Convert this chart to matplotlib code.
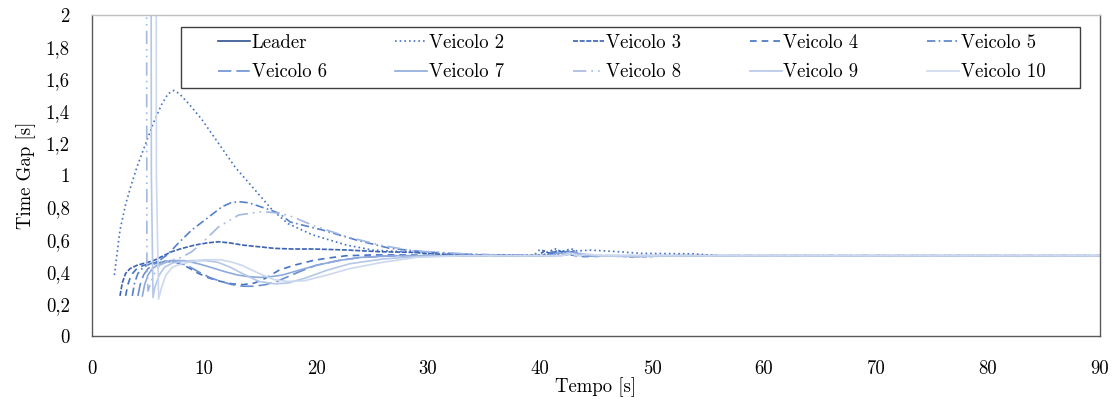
import matplotlib
matplotlib.use("Agg")
import matplotlib.pyplot as plt
from matplotlib.patches import Rectangle

# ---------------- data ----------------
series_names = ["Leader", "Veicolo 2", "Veicolo 3", "Veicolo 4", "Veicolo 5",
                "Veicolo 6", "Veicolo 7", "Veicolo 8", "Veicolo 9", "Veicolo 10"]

leader_t = []
leader_y = []

v2_t = [2.0, 2.5, 3.0, 3.5, 4.0, 4.8, 5.5, 6.2, 6.8, 7.3, 7.8, 8.6, 9.8, 11.3, 12.8, 14.3,
        16.1, 17.5, 19.7, 22.7, 25.1, 28.7, 31, 35, 39.5, 40.0, 40.7, 41.3, 42.0, 42.7,
        43.3, 44.5, 47, 49, 53.7, 56, 90]
v2_y = [0.38, 0.66, 0.82, 0.94, 1.05, 1.20, 1.33, 1.44, 1.51, 1.53, 1.51, 1.45, 1.35, 1.20,
        1.05, 0.93, 0.785, 0.70, 0.63, 0.567, 0.535, 0.522, 0.51, 0.505, 0.505, 0.54, 0.52,
        0.545, 0.52, 0.545, 0.53, 0.535, 0.525, 0.515, 0.512, 0.50, 0.50]

v3_t = [2.5, 2.7, 3.0, 3.4, 4.0, 4.5, 5.5, 7.1, 8.0, 9.2, 10.3, 11.3, 12.3, 13.4, 14.9,
        16.3, 17.9, 19.8, 22.7, 25.7, 28.7, 31, 35, 39.8, 40.4, 41.0, 41.6, 42.3, 43.0,
        43.7, 45, 48, 49.5, 52, 90]
v3_y = [0.25, 0.33, 0.39, 0.42, 0.44, 0.45, 0.47, 0.525, 0.545, 0.567, 0.58, 0.587, 0.58,
        0.567, 0.556, 0.546, 0.542, 0.542, 0.536, 0.525, 0.521, 0.51, 0.503, 0.50, 0.53,
        0.51, 0.535, 0.51, 0.53, 0.50, 0.50, 0.495, 0.495, 0.50, 0.50]

v4_t = [3.0, 3.2, 3.5, 4.0, 4.6, 5.5, 6.5, 7.5, 8.5, 9.5, 10.5, 11.5, 12.5, 13.5, 14.5,
        15.5, 16.7, 18.0, 19.7, 21, 22.7, 25, 28, 32, 40.2, 40.8, 41.4, 42.1, 42.8, 43.6,
        44.5, 47, 48.6, 50, 90]
v4_y = [0.25, 0.32, 0.38, 0.42, 0.44, 0.455, 0.465, 0.46, 0.43, 0.39, 0.36, 0.34, 0.325,
        0.32, 0.33, 0.36, 0.41, 0.44, 0.47, 0.485, 0.50, 0.505, 0.505, 0.50, 0.50, 0.525,
        0.505, 0.53, 0.505, 0.495, 0.495, 0.50, 0.494, 0.50, 0.50]

v5_t = [3.6, 3.8, 4.1, 4.6, 5.2, 6.0, 6.8, 7.7, 8.9, 10.4, 11.6, 12.4, 13.1, 14.0, 14.6,
        15.7, 16.7, 17.7, 20.6, 23.6, 26.6, 29.6, 33, 40.5, 41.1, 41.8, 42.5, 43.2, 44,
        46, 90]
v5_y = [0.25, 0.33, 0.39, 0.43, 0.45, 0.47, 0.51, 0.578, 0.66, 0.74, 0.805, 0.83, 0.837,
        0.83, 0.816, 0.79, 0.765, 0.71, 0.66, 0.598, 0.546, 0.525, 0.51, 0.50, 0.525,
        0.505, 0.53, 0.505, 0.50, 0.50, 0.50]

v6_t = [4.1, 4.3, 4.6, 5.0, 5.6, 6.5, 7.5, 8.5, 9.5, 10.5, 11.5, 12.5, 13.5, 14.5, 15.5,
        16.5, 17.5, 18.5, 20, 22, 24, 27, 30, 40.8, 41.5, 42.2, 43, 43.8, 45, 90]
v6_y = [0.25, 0.32, 0.38, 0.42, 0.45, 0.465, 0.46, 0.44, 0.40, 0.365, 0.34, 0.32, 0.31,
        0.31, 0.32, 0.34, 0.37, 0.40, 0.44, 0.47, 0.49, 0.50, 0.50, 0.50, 0.52, 0.505,
        0.525, 0.50, 0.50, 0.50]

v7_t = [4.5, 4.7, 5.0, 5.4, 6.0, 7.0, 8.3, 9.5, 10.5, 11.9, 13.0, 14.0, 15.0, 16.0, 17.0,
        18.5, 20, 22, 24, 27, 30, 41, 41.7, 42.4, 43.1, 44, 90]
v7_y = [0.25, 0.32, 0.38, 0.42, 0.45, 0.47, 0.47, 0.45, 0.43, 0.40, 0.38, 0.37, 0.365,
        0.37, 0.38, 0.41, 0.44, 0.47, 0.49, 0.50, 0.50, 0.50, 0.52, 0.505, 0.52, 0.50, 0.50]

v8_t = [4.85, 4.9, 5.0, 5.5, 6.0, 7.0, 8.0, 8.9, 9.8, 11.3, 13.1, 15.2, 16.8, 18, 19.7,
        22.7, 25.7, 28.7, 31.7, 35, 41.5, 42.2, 42.9, 43.6, 44.5, 90]
v8_y = [4.0, 0.45, 0.28, 0.38, 0.44, 0.47, 0.49, 0.525, 0.578, 0.68, 0.754, 0.775, 0.765,
        0.74, 0.69, 0.62, 0.567, 0.53, 0.519, 0.505, 0.50, 0.52, 0.505, 0.515, 0.50, 0.50]

v9_t = [5.25, 5.3, 5.45, 5.6, 6.0, 6.5, 7.2, 8.0, 9.0, 10.1, 11.2, 12.3, 13.4, 14.9, 16.3,
        17.5, 19, 21, 23, 26, 29, 32, 41.8, 42.5, 43.2, 44, 45, 90]
v9_y = [4.0, 1.0, 0.24, 0.30, 0.38, 0.43, 0.455, 0.465, 0.47, 0.47, 0.46, 0.43, 0.39,
        0.34, 0.325, 0.33, 0.36, 0.41, 0.45, 0.48, 0.495, 0.50, 0.50, 0.52, 0.50, 0.51,
        0.50, 0.50]

v10_t = [5.7, 5.75, 5.95, 6.2, 6.6, 7.2, 8.0, 9.0, 10.1, 11.5, 12.5, 13.4, 14.9, 16.3,
         17.5, 19, 21, 23, 26, 29, 33, 42, 42.8, 43.5, 44.3, 45.5, 90]
v10_y = [4.0, 1.0, 0.23, 0.30, 0.38, 0.43, 0.45, 0.465, 0.475, 0.475, 0.46, 0.44, 0.39,
         0.35, 0.34, 0.345, 0.38, 0.42, 0.46, 0.49, 0.50, 0.50, 0.515, 0.50, 0.51, 0.50,
         0.50]

x_ticks = [0, 10, 20, 30, 40, 50, 60, 70, 80, 90]
y_ticks = [0, 0.2, 0.4, 0.6, 0.8, 1.0, 1.2, 1.4, 1.6, 1.8, 2.0]
y_tick_labels = ["0", "0,2", "0,4", "0,6", "0,8", "1", "1,2", "1,4", "1,6", "1,8", "2"]

# ---------------- style ----------------
colors = ["#2F528F", "#4472C4", "#3A62B0", "#4472C4", "#5580CC",
          "#6B8FD3", "#8EA9DB", "#A3B8E2", "#B4C7E7", "#CCD8EF"]
styles = ["-", (0, (1, 1.8)), (0, (3, 1)), (0, (4, 3)), (0, (5, 2, 1, 2)),
          (0, (8, 3)), "-", (0, (8, 3, 1, 3, 1, 3)), "-", "-"]

plt.rcParams["font.family"] = ["cmr10", "DejaVu Serif"]
plt.rcParams["axes.formatter.use_mathtext"] = True
FS = 13.5

fig = plt.figure(figsize=(11.18, 4.03), dpi=100)
ax = fig.add_axes([92 / 1118, (403 - 336) / 403, (1100 - 92) / 1118, (336 - 15) / 403])

data = [(leader_t, leader_y), (v2_t, v2_y), (v3_t, v3_y), (v4_t, v4_y), (v5_t, v5_y),
        (v6_t, v6_y), (v7_t, v7_y), (v8_t, v8_y), (v9_t, v9_y), (v10_t, v10_y)]

handles = []
for (t, y), name, c, ls in zip(data, series_names, colors, styles):
    h, = ax.plot(t, y, color=c, linestyle=ls, linewidth=1.2, label=name)
    handles.append(h)

ax.set_xlim(0, 90)
ax.set_ylim(0, 2)
ax.set_xticks(x_ticks)
ax.set_xticklabels([str(v) for v in x_ticks], fontsize=FS)
ax.set_yticks(y_ticks)
ax.set_yticklabels(y_tick_labels, fontsize=FS)
ax.tick_params(axis="both", length=0)
ax.yaxis.set_tick_params(pad=16)
ax.xaxis.set_tick_params(pad=17)

for s in ["left", "bottom", "right"]:
    ax.spines[s].set_color("#595959")
    ax.spines[s].set_linewidth(1.0)
ax.spines["top"].set_color("#BFBFBF")
ax.spines["top"].set_linewidth(1.0)

ax.set_xlabel("Tempo [s]", fontsize=FS, labelpad=0)
ax.set_ylabel("Time Gap [s]", fontsize=FS, labelpad=7)

# row-major legend ordering (matplotlib fills columns first)
order = [0, 5, 1, 6, 2, 7, 3, 8, 4, 9]
leg = ax.legend([handles[i] for i in order], [series_names[i] for i in order],
                loc="upper left", bbox_to_anchor=((218 - 92) / 1008, (336 - 34) / 321),
                ncol=5, frameon=False, fontsize=FS, borderpad=0, borderaxespad=0,
                handlelength=1.7, handletextpad=0.1, columnspacing=3.65, labelspacing=0.6)

ax.add_patch(Rectangle(((181 - 92) / 1008, (336 - 88) / 321),
                       (1080 - 181) / 1008, (88 - 27) / 321,
                       transform=ax.transAxes, fill=False, edgecolor="#404040",
                       linewidth=1.0, zorder=5))

fig.savefig("out.png", dpi=100)
